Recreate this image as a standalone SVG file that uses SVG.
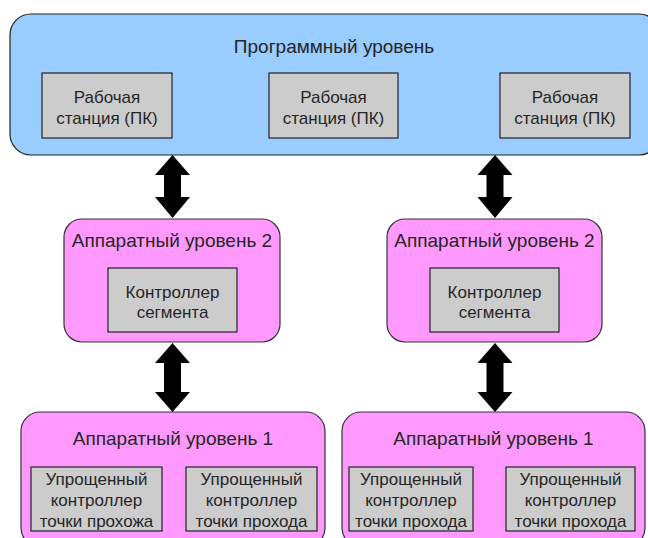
<svg xmlns="http://www.w3.org/2000/svg" width="648" height="538" viewBox="0 0 648 538">
<style>
text{font-family:"Liberation Sans",Arial,sans-serif;fill:#262626;text-anchor:middle}
.t{font-size:19px}
.s{font-size:17px}
.blue{fill:#99CCFF;stroke:#222;stroke-width:1.2}
.pink{fill:#FF99FF;stroke:#333;stroke-width:1.2}
.grey{fill:#CCCCCC;stroke:#222;stroke-width:1.2}
.arr{fill:#000}
</style>
<rect x="0" y="0" width="648" height="538" fill="#fff"/>
<g id="software">
<rect class="blue" x="10" y="14" width="650" height="141" rx="21"/>
<text class="t" x="334" y="53">Программный уровень</text>
</g>
<g id="ws1">
<rect class="grey" x="42" y="73" width="130" height="65"/>
<text class="s" x="107" y="103">Рабочая</text>
<text class="s" x="107" y="124">станция (ПК)</text>
</g>
<g id="ws2">
<rect class="grey" x="269" y="73" width="129" height="65"/>
<text class="s" x="333.5" y="103">Рабочая</text>
<text class="s" x="333.5" y="124">станция (ПК)</text>
</g>
<g id="ws3">
<rect class="grey" x="500" y="73" width="130" height="65"/>
<text class="s" x="565" y="103">Рабочая</text>
<text class="s" x="565" y="124">станция (ПК)</text>
</g>
<g id="hw2left">
<rect class="pink" x="64" y="219" width="216" height="123" rx="18"/>
<text class="t" x="172" y="247">Аппаратный уровень 2</text>
</g>
<g id="seg1">
<rect class="grey" x="108" y="268" width="129" height="64"/>
<text class="s" x="172.5" y="298">Контроллер</text>
<text class="s" x="172.5" y="318">сегмента</text>
</g>
<g id="hw2right">
<rect class="pink" x="387" y="219" width="215" height="123" rx="18"/>
<text class="t" x="494.5" y="247">Аппаратный уровень 2</text>
</g>
<g id="seg2">
<rect class="grey" x="430" y="268" width="129" height="64"/>
<text class="s" x="494.5" y="298">Контроллер</text>
<text class="s" x="494.5" y="318">сегмента</text>
</g>
<g id="hw1left">
<rect class="pink" x="21" y="412" width="304" height="135" rx="19"/>
<text class="t" x="173" y="445">Аппаратный уровень 1</text>
</g>
<g id="pc1">
<rect class="grey" x="31" y="467" width="131" height="64"/>
<text class="s" x="96.5" y="485">Упрощенный</text>
<text class="s" x="96.5" y="506">контроллер</text>
<text class="s" x="96.5" y="527">точки прохожа</text>
</g>
<g id="pc2">
<rect class="grey" x="186" y="467" width="131" height="64"/>
<text class="s" x="251.5" y="485">Упрощенный</text>
<text class="s" x="251.5" y="506">контроллер</text>
<text class="s" x="251.5" y="527">точки прохода</text>
</g>
<g id="hw1right">
<rect class="pink" x="342" y="412" width="303" height="135" rx="19"/>
<text class="t" x="493.5" y="445">Аппаратный уровень 1</text>
</g>
<g id="pc3">
<rect class="grey" x="349" y="467" width="124" height="64"/>
<text class="s" x="411" y="485">Упрощенный</text>
<text class="s" x="411" y="506">контроллер</text>
<text class="s" x="411" y="527">точки прохода</text>
</g>
<g id="pc4">
<rect class="grey" x="506" y="467" width="129" height="64"/>
<text class="s" x="570.5" y="485">Упрощенный</text>
<text class="s" x="570.5" y="506">контроллер</text>
<text class="s" x="570.5" y="527">точки прохода</text>
</g>
<g id="connectors">
<path class="arr" d="M172.5 155 L190 175 L181 175 L181 197 L190 197 L172.5 218 L155 197 L164 197 L164 175 L155 175 Z"/>
<path class="arr" d="M495 155 L512.5 175 L503.5 175 L503.5 197 L512.5 197 L495 218 L477.5 197 L486.5 197 L486.5 175 L477.5 175 Z"/>
<path class="arr" d="M172.5 343 L190 363 L181 363 L181 392 L190 392 L172.5 412 L155 392 L164 392 L164 363 L155 363 Z"/>
<path class="arr" d="M495 343 L512.5 363 L503.5 363 L503.5 392 L512.5 392 L495 412 L477.5 392 L486.5 392 L486.5 363 L477.5 363 Z"/>
</g>
</svg>
